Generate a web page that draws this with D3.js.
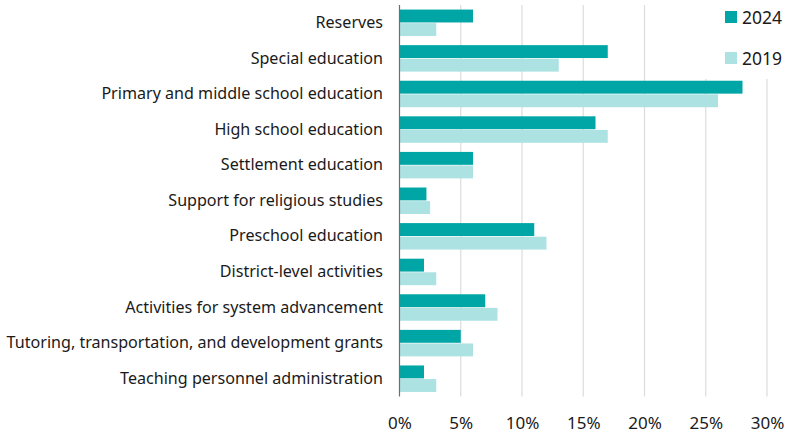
<!DOCTYPE html>
<html>
<head>
<meta charset="utf-8">
<script src="https://cdn.jsdelivr.net/npm/d3@7"></script>
<style>
  body { margin: 0; background: #fff; }
  svg { font-family: "Noto Sans", sans-serif; }
</style>
</head>
<body>
<svg id="chart" width="786" height="435"></svg>
<script>
// data
const categories = ["Reserves", "Special education", "Primary and middle school education",
  "High school education", "Settlement education", "Support for religious studies",
  "Preschool education", "District-level activities", "Activities for system advancement",
  "Tutoring, transportation, and development grants", "Teaching personnel administration"];
const values2024 = [6, 17, 28, 16, 6, 2.2, 11, 2, 7, 5, 2];
const values2019 = [3, 13, 26, 17, 6, 2.5, 12, 3, 8, 6, 3];
const seriesNames = ["2024", "2019"];
const seriesColors = ["#00a5a5", "#ade2e2"];
const xTicks = [0, 5, 10, 15, 20, 25, 30];

const svg = d3.select("#chart");
const width = 786, height = 435;
const margin = { left: 399.5, right: 19, top: 5, bottom: 38.5 };

const x = d3.scaleLinear()
  .domain([0, 30])
  .range([margin.left, width - margin.right]);

const y = d3.scaleBand()
  .domain(categories)
  .range([margin.top, height - margin.bottom])
  .paddingInner(0.256)
  .paddingOuter(0.128);

const ySub = d3.scaleBand()
  .domain(seriesNames)
  .range([0, y.bandwidth()])
  .paddingInner(0.05);

// gridlines
svg.append("g")
  .selectAll("line")
  .data(xTicks.filter(d => d > 0))
  .enter().append("line")
  .attr("x1", d => x(d)).attr("x2", d => x(d))
  .attr("y1", margin.top).attr("y2", height - margin.bottom)
  .attr("stroke", "#dcdcdc")
  .attr("stroke-width", 1.2);

// bars
const rows = categories.map((c, i) => ({ cat: c, vals: [values2024[i], values2019[i]] }));
const groups = svg.append("g").selectAll("g")
  .data(rows)
  .enter().append("g")
  .attr("transform", d => `translate(0,${y(d.cat)})`);

groups.selectAll("rect")
  .data(d => d.vals.map((v, j) => ({ key: seriesNames[j], v: v, color: seriesColors[j] })))
  .enter().append("rect")
  .attr("x", x(0))
  .attr("y", d => ySub(d.key))
  .attr("width", d => x(d.v) - x(0))
  .attr("height", ySub.bandwidth())
  .attr("fill", d => d.color);

// y axis (labels + line)
const yAxis = svg.append("g")
  .attr("transform", `translate(${x(0)},0)`)
  .call(d3.axisLeft(y).tickSize(0).tickPadding(16.5));
yAxis.select(".domain").attr("stroke", "#6e6e6e").attr("stroke-width", 1.2)
  .attr("d", `M0,${margin.top}V${height - margin.bottom}`);
yAxis.selectAll("text")
  .attr("font-size", 16.1)
  .attr("font-family", "Noto Sans, sans-serif")
  .attr("fill", "#1a1a1a");

// x axis labels
const xAxis = svg.append("g")
  .attr("transform", `translate(0,${height - margin.bottom})`)
  .call(d3.axisBottom(x).tickValues(xTicks).tickFormat(d => d + "%").tickSize(0).tickPadding(20));
xAxis.select(".domain").remove();
xAxis.selectAll("text")
  .attr("font-size", 17)
  .attr("font-family", "Noto Sans, sans-serif")
  .attr("fill", "#1a1a1a");

// legend, on a white box that hides the grid behind it
const legend = svg.append("g");
legend.append("rect")
  .attr("x", 690).attr("y", 0).attr("width", 96).attr("height", 79)
  .attr("fill", "#fff");
const legendY = d3.scalePoint().domain(seriesNames).range([17, 58]);
const items = legend.selectAll("g.item")
  .data(seriesNames)
  .enter().append("g")
  .attr("class", "item")
  .attr("transform", d => `translate(725,${legendY(d)})`);
items.append("rect")
  .attr("x", 0).attr("y", -6).attr("width", 12).attr("height", 12)
  .attr("fill", (d, i) => seriesColors[i]);
items.append("text")
  .attr("x", 17).attr("y", 6.5)
  .attr("font-size", 17.5)
  .attr("fill", "#1a1a1a")
  .text(d => d);
</script>
</body>
</html>
